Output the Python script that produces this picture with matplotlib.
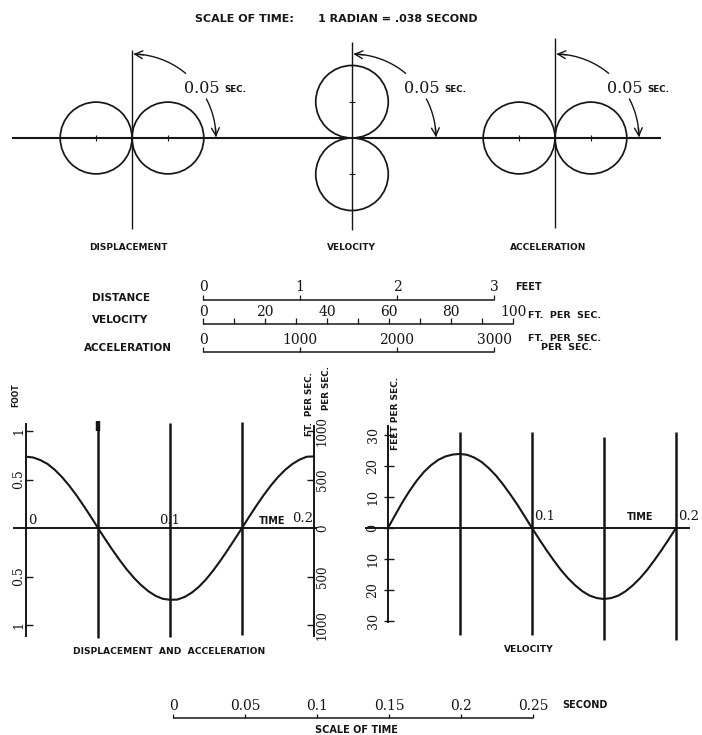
import numpy as np
import matplotlib
matplotlib.use("Agg")
import matplotlib.pyplot as plt
from matplotlib.patches import Circle
from matplotlib.transforms import blended_transform_factory as blend

# ---------------- data ----------------
time_s = [0.000, 0.005, 0.010, 0.015, 0.020, 0.025, 0.030, 0.035, 0.040, 0.045,
          0.050, 0.055, 0.060, 0.065, 0.070, 0.075, 0.080, 0.085, 0.090, 0.095,
          0.100, 0.105, 0.110, 0.115, 0.120, 0.125, 0.130, 0.135, 0.140, 0.145,
          0.150, 0.155, 0.160, 0.165, 0.170, 0.175, 0.180, 0.185, 0.190, 0.195,
          0.200]
displacement_ft = [0.735, 0.727, 0.700, 0.660, 0.600, 0.525, 0.437, 0.338, 0.230, 0.117,
                   0.000, -0.115, -0.225, -0.330, -0.428, -0.515, -0.590, -0.652, -0.700, -0.730,
                   -0.740, -0.738, -0.712, -0.668, -0.607, -0.530, -0.438, -0.337, -0.228, -0.115,
                   0.000, 0.117, 0.230, 0.338, 0.437, 0.525, 0.600, 0.660, 0.705, 0.735,
                   0.738]
velocity_fps = [0.0, 4.2, 8.3, 12.0, 15.3, 18.1, 20.3, 22.0, 23.1, 23.7,
                23.9, 23.6, 22.7, 21.3, 19.3, 16.9, 14.0, 10.8, 7.4, 3.7,
                0.0, -3.6, -7.1, -10.4, -13.5, -16.2, -18.5, -20.4, -21.8, -22.6,
                -22.9, -22.6, -21.8, -20.4, -18.5, -16.2, -13.5, -10.4, -7.1, -3.6,
                0.0]

polar_titles = ["DISPLACEMENT", "VELOCITY", "ACCELERATION"]
polar_diameters = [0.74, 23.4, 740.0]      # ft, ft/s, ft/s^2
polar_vertical = [False, True, False]
quarter_period_label = "0.05"

disp_tick_values = [1, 0.5, -0.5, -1]
disp_tick_labels = ["1", "0.5", "0.5", "1"]
acc_tick_values = [1000, 500, 0, -500, -1000]
acc_tick_labels = ["1000", "500", "0", "500", "1000"]
vel_tick_values = [30, 20, 10, 0, -10, -20, -30]
vel_tick_labels = ["30", "20", "10", "0", "10", "20", "30"]
quarter_times = [0.05, 0.10, 0.15, 0.20]

distance_scale = [0, 1, 2, 3]
velocity_scale_ticks = [0, 10, 20, 30, 40, 50, 60, 70, 80, 90, 100]
velocity_scale_labels = [0, 20, 40, 60, 80, 100]
accel_scale = [0, 1000, 2000, 3000]
time_scale = [0, 0.05, 0.10, 0.15, 0.20, 0.25]
time_scale_labels = ["0", "0.05", "0.1", "0.15", "0.2", "0.25"]

# ---------------- layout / style ----------------
W, H = 702, 735
INK = "#161616"
SERIF = "DejaVu Serif"
SANS = "DejaVu Sans"
PX_FT, PX_FPS, PX_FPS2, PX_S = 97.0, 3.1, 0.097, 1440.0

plt.rcParams["font.family"] = ["DejaVu Sans"]
fig = plt.figure(figsize=(W / 100, H / 100), dpi=100)
fig.patch.set_facecolor("white")

deco = fig.add_axes([0, 0, 1, 1])
deco.set_xlim(0, W)
deco.set_ylim(H, 0)
deco.axis("off")


def panel(ox, oy, sx, sy, box):
    x0, y0, x1, y1 = box
    ax = fig.add_axes([x0 / W, 1 - y1 / H, (x1 - x0) / W, (y1 - y0) / H])
    ax.set_xlim((x0 - ox) / sx, (x1 - ox) / sx)
    ax.set_ylim((oy - y1) / sy, (oy - y0) / sy)
    ax.axis("off")
    return ax


def tr(ax, xm, ym):
    if xm == "d" and ym == "d":
        return ax.transData
    if xm == "p" and ym == "d":
        return blend(deco.transData, ax.transData)
    return blend(ax.transData, deco.transData)


def L(ax, xs, ys, xm="d", ym="d", lw=1.2, **kw):
    ax.plot(xs, ys, color=INK, lw=lw, transform=tr(ax, xm, ym),
            clip_on=False, solid_capstyle="butt", **kw)


def T(ax, x, y, s, xm="d", ym="d", size=7, serif=False, **kw):
    kw.setdefault("ha", "center")
    kw.setdefault("va", "center")
    ax.text(x, y, s, transform=tr(ax, xm, ym), fontsize=size, color=INK,
            fontfamily=SERIF if serif else SANS,
            fontweight="normal" if serif else "bold", **kw)


# ---------------- title ----------------
T(deco, 195, 19, "SCALE OF TIME:", size=8, ha="left")
T(deco, 318, 19, "1 RADIAN = .038 SECOND", size=8, ha="left")

# ---------------- polar diagrams ----------------
AXY = 138
polar_ox = [132, 352, 555]
polar_scale = [PX_FT, PX_FPS, PX_FPS2]
polar_vline = [(50, 229), (42, 230), (38, 228)]
polar_title_x = [128, 351, 548]
L(deco, [12, 661], [AXY, AXY], lw=1.5)
for i in range(3):
    ox, s = polar_ox[i], polar_scale[i]
    r = polar_diameters[i] / 2
    ax = panel(ox, AXY, s, s, (ox - 100, 30, ox + 100, 240))
    centers = [(0, r), (0, -r)] if polar_vertical[i] else [(r, 0), (-r, 0)]
    for c in centers:
        ax.add_patch(Circle(c, r, fill=False, ec=INK, lw=1.25, clip_on=False))
        if polar_vertical[i]:
            L(ax, [-3 / s, 3 / s], [c[1], c[1]], lw=0.8)
        else:
            L(ax, [c[0], c[0]], [-3 / s, 3 / s], lw=0.8)
    L(deco, [ox, ox], list(polar_vline[i]), lw=1.0)
    R = 84
    for a0, a1 in [(88.5, 50), (28, 1.0)]:
        th = np.radians(np.linspace(a0, a1, 40))
        L(deco, ox + R * np.cos(th), AXY - R * np.sin(th), lw=1.0)
    for tip_a, tail_a in [(89.0, 82.0), (0.6, 7.0)]:
        tip = (ox + R * np.cos(np.radians(tip_a)), AXY - R * np.sin(np.radians(tip_a)))
        tail = (ox + R * np.cos(np.radians(tail_a)), AXY - R * np.sin(np.radians(tail_a)))
        deco.annotate("", xy=tip, xytext=tail,
                      arrowprops=dict(arrowstyle="->,head_length=0.55,head_width=0.28",
                                      color=INK, lw=1.0, shrinkA=0, shrinkB=0,
                                      mutation_scale=10))
    T(deco, ox + 52, 93, quarter_period_label, size=11.5, serif=True, ha="left", va="baseline")
    T(deco, ox + 92, 91.5, "SEC.", size=6.3, ha="left", va="baseline")
    T(deco, polar_title_x[i], 247, polar_titles[i], size=6.5)

# ---------------- scales ----------------
T(deco, 92, 298, "DISTANCE", size=7.5, ha="left")
T(deco, 92, 320, "VELOCITY", size=7.5, ha="left")
T(deco, 84, 348, "ACCELERATION", size=7.5, ha="left")


def scale_bar(ox, oy, ppu, ticks, lab_vals, labs, tick_up=5.5, lab_dy=13.0):
    ax = panel(ox, oy, ppu, 1.0, (ox - 10, oy - 25, ox + 380, oy + 8))
    L(ax, [ticks[0], ticks[-1]], [0, 0], lw=1.1)
    for v in ticks:
        L(ax, [v, v], [0, tick_up], lw=0.9)
    for v, sl in zip(lab_vals, labs):
        T(ax, v, lab_dy, sl, size=10, serif=True)
    return ax


scale_bar(203, 300, PX_FT, distance_scale, distance_scale,
          [str(v) for v in distance_scale])
scale_bar(203, 324.5, PX_FPS, velocity_scale_ticks, velocity_scale_labels,
          [str(v) for v in velocity_scale_labels], tick_up=6, lab_dy=12.5)
scale_bar(203, 352, PX_FPS2, accel_scale, accel_scale,
          [str(v) for v in accel_scale], lab_dy=11.5)
T(deco, 515, 287, "FEET", size=7, ha="left")
T(deco, 528, 315, "FT.  PER  SEC.", size=6.8, ha="left")
T(deco, 528, 338.5, "FT.  PER  SEC.", size=6.8, ha="left")
T(deco, 541, 347, "PER  SEC.", size=6.8, ha="left")

# ---------------- displacement & acceleration chart ----------------
box1 = (0, 360, 350, 665)
dax = panel(26, 528, PX_S, PX_FT, box1)
aax = panel(26, 528, PX_S, PX_FPS2, box1)
L(dax, [13, 317], [0, 0], "p", "d", lw=1.4)
L(dax, [0, 0], [423, 637], "d", "p", lw=1.4)
L(dax, [0.2, 0.2], [425, 637], "d", "p", lw=1.4)
for t, (y0, y1) in zip(quarter_times[:3], [(422, 638), (423, 637), (422, 635)]):
    L(dax, [t, t], [y0, y1], "d", "p", lw=1.8)
L(dax, [0.05, 0.05], [421, 431], "d", "p", lw=3.2)
dax.plot(time_s, displacement_ft, color=INK, lw=1.5, clip_on=False)
for v, sl in zip(disp_tick_values, disp_tick_labels):
    L(dax, [26, 33], [v, v], "p", "d", lw=1.0)
    T(dax, 19, v, sl, "p", "d", size=9, serif=True, rotation=90)
for v, sl in zip(acc_tick_values, acc_tick_labels):
    if v != 0:
        L(aax, [307, 314], [v, v], "p", "d", lw=1.0)
    T(aax, 322.5, v, sl, "p", "d", size=8.5, serif=True, rotation=90)
T(deco, 15.5, 395, "FOOT", size=5.5, rotation=90)
T(deco, 310, 436, "FT.  PER SEC.", size=6.3, rotation=90, rotation_mode="anchor",
  ha="left", va="center")
T(deco, 326.5, 410, "PER SEC.", size=6.3, rotation=90, rotation_mode="anchor",
  ha="left", va="center")
T(dax, 6 / PX_S, 520, "0", "d", "p", size=9.5, serif=True)
T(dax, 0.1, 520, "0.1", "d", "p", size=9.5, serif=True)
T(deco, 285, 521, "TIME", size=7, ha="right")
T(dax, 0.2 - 1 / PX_S, 519, "0.2", "d", "p", size=9.5, serif=True, ha="right")
T(deco, 169, 651, "DISPLACEMENT  AND  ACCELERATION", size=6.6)

# ---------------- velocity chart ----------------
vax = panel(388, 528, PX_S, PX_FPS, (345, 360, 702, 665))
L(vax, [365, 690], [0, 0], "p", "d", lw=1.4)
L(vax, [0, 0], [425, 623], "d", "p", lw=1.4)
for t, (y0, y1) in zip(quarter_times, [(432, 635), (432, 635), (437, 640), (432, 640)]):
    L(vax, [t, t], [y0, y1], "d", "p", lw=1.8)
vax.plot(time_s, velocity_fps, color=INK, lw=1.5, clip_on=False)
for v, sl in zip(vel_tick_values, vel_tick_labels):
    L(vax, [384, 394], [v, v], "p", "d", lw=1.0)
    T(vax, 373, v, sl, "p", "d", size=9, serif=True, rotation=90)
T(deco, 395.5, 450, "FEET PER SEC.", size=6.5, rotation=90, rotation_mode="anchor",
  ha="left", va="center")
T(vax, 0.1 + 2 / PX_S, 517, "0.1", "d", "p", size=9.5, serif=True, ha="left")
T(deco, 627, 517, "TIME", size=7, ha="left")
T(vax, 0.2 + 2 / PX_S, 517, "0.2", "d", "p", size=9.5, serif=True, ha="left")
T(deco, 529, 650, "VELOCITY", size=6.6)

# ---------------- scale of time ----------------
tax = panel(173, 718, PX_S, 1.0, (160, 690, 560, 728))
L(tax, [time_scale[0], time_scale[-1]], [0, 0], lw=1.1)
for v, sl in zip(time_scale, time_scale_labels):
    L(tax, [v, v], [0, 4], lw=0.9)
    T(tax, v, 12.5, sl, size=10, serif=True)
T(deco, 562, 705.5, "SECOND", size=7, ha="left")
T(deco, 356, 730, "SCALE OF TIME", size=7)

fig.savefig("out.png", dpi=100, facecolor="white")
